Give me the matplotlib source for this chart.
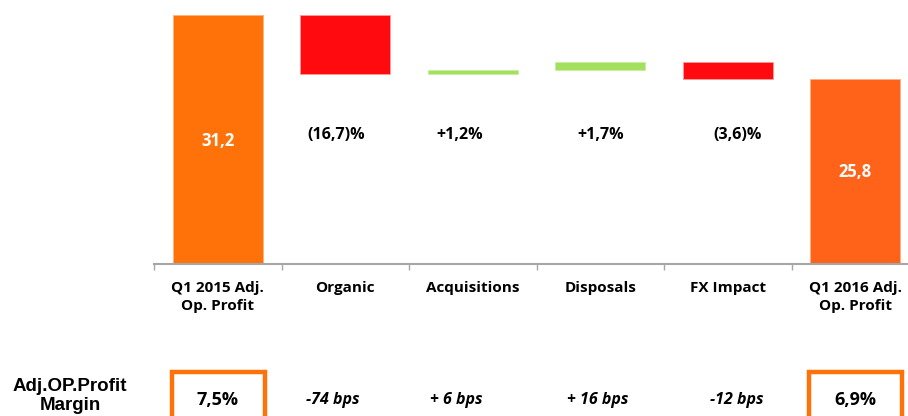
import matplotlib
matplotlib.use("Agg")
import matplotlib.pyplot as plt
from matplotlib.patches import Rectangle
from matplotlib.transforms import blended_transform_factory

categories = ["Q1 2015 Adj.\nOp. Profit", "Organic", "Acquisitions", "Disposals", "FX Impact", "Q1 2016 Adj.\nOp. Profit"]
start_value = 31.2
deltas = [-5.0, 0.4, 0.6, -1.4]
end_value = 25.8
bar_labels = ["31,2", "(16,7)%", "+1,2%", "+1,7%", "(3,6)%", "25,8"]
margin_labels = ["7,5%", "-74 bps", "+ 6 bps", "+ 16 bps", "-12 bps", "6,9%"]

ORANGE1 = "#FF720A"
ORANGE2 = "#FF6319"
RED = "#FF0A0E"
GREEN = "#A2E05E"

fig = plt.figure(figsize=(9.08, 4.16), dpi=100)
ax = fig.add_axes([154/908, 1-264/416, 765/908, 249/416])
ax.set_xlim(-0.5, 5.5)
ax.set_ylim(10.2, 31.2)

w = 0.705
ax.bar(0, start_value, width=w, color=ORANGE1, edgecolor="#FFB27A", linewidth=0.6)
run = start_value
for i, d in enumerate(deltas, start=1):
    lo = run + min(d, 0)
    col = RED if d < 0 else GREEN
    ax.bar(i, abs(d), bottom=lo, width=w, color=col, edgecolor="#FF9A9A" if d < 0 else "#C8EEA0", linewidth=0.6)
    run += d
ax.bar(5, end_value, width=w, color=ORANGE2, edgecolor="#FFB080", linewidth=0.6)

font = "Open Sans"
# value labels
ax.text(0, 20.57, bar_labels[0], ha="center", va="center", color="white", fontsize=12, fontweight="bold", family=font)
mid_x = [0.93, 1.9, 3.0, 4.08]
for k, x in enumerate(mid_x, start=1):
    ax.text(x, 21.07, bar_labels[k], ha="center", va="center", color="black", fontsize=11.5, fontweight="bold", family=font)
ax.text(5, 17.95, bar_labels[5], ha="center", va="center", color="white", fontsize=12, fontweight="bold", family=font)

for s in ["top", "right", "left"]:
    ax.spines[s].set_visible(False)
ax.spines["bottom"].set_color("#A6A6A6")
ax.spines["bottom"].set_linewidth(1.5)
ax.set_yticks([])
ax.set_xticks(range(6))
ax.set_xticklabels(categories, fontsize=11, fontweight="bold", family=font, linespacing=1.35)
ax.tick_params(axis="x", which="major", length=0, pad=12)
ax.set_xticks([i - 0.5 for i in range(7)], minor=True)
ax.tick_params(axis="x", which="minor", length=4, color="#A6A6A6", width=1)

# margin row
tr = blended_transform_factory(ax.transData, fig.transFigure)
fig.text(70/908, 1-396/416, "Adj.OP.Profit\nMargin", ha="center", va="center", fontsize=13.5,
         fontweight="bold", family="Liberation Sans", linespacing=1.1)
ymid = 1-400/416
offsets = {1: -0.1, 2: -0.13, 3: -0.02, 4: 0.07}
for i, lab in enumerate(margin_labels):
    if i in (0, 5):
        ax.text(i, ymid, lab, transform=tr, ha="center", va="center", fontsize=13, fontweight="bold", family=font)
    else:
        ax.text(i + offsets[i], ymid, lab,
                transform=tr, ha="center", va="center", fontsize=11.5, fontweight="bold", style="italic", family=font)

for i in (0, 5):
    rect = Rectangle((i - 0.36, -0.02), 0.73, (416-372)/416 + 0.02, transform=tr,
                     fill=False, edgecolor=ORANGE1, linewidth=3.2, clip_on=False)
    ax.add_patch(rect)

fig.savefig("out.png", dpi=100)
